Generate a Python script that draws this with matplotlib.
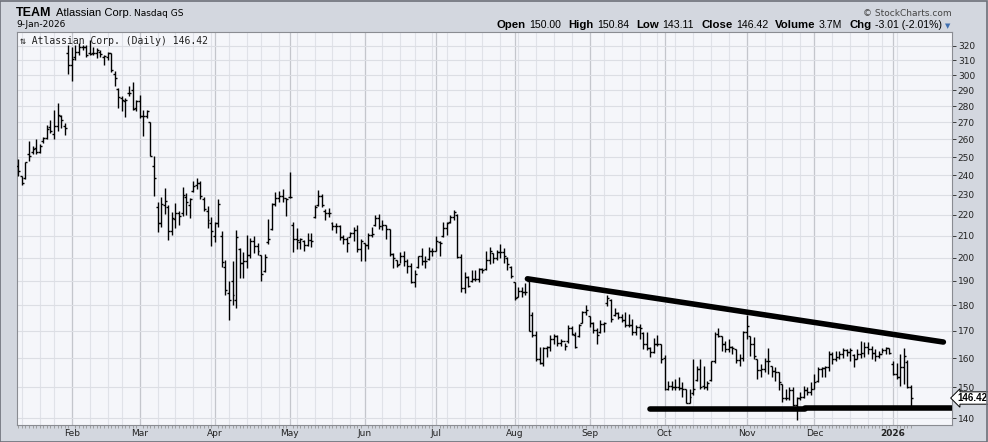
import matplotlib
matplotlib.use("Agg")
import matplotlib.pyplot as plt
import numpy as np
import pandas as pd

# trading days shown (Jan 10 2025 .. Jan 9 2026)
holidays = ['2025-01-20', '2025-02-17', '2025-04-18', '2025-05-26', '2025-06-19',
            '2025-07-04', '2025-09-01', '2025-11-27', '2025-12-25', '2026-01-01']
dates = pd.bdate_range('2025-01-10', '2026-01-09', freq='C', holidays=holidays)

# daily OHLC
highs = [
    249.0, 239.8, 247.5, 259.1, 256.3, 260.0, 257.4, 261.4, 268.7, 271.6,
    277.5, 281.7, 274.8, 269.7, 320.7, 319.0, 320.7, 322.0, 320.7, 320.7,
    324.0, 319.5, 318.3, 317.0, 313.7, 316.0, 315.3, 302.4, 291.6, 286.2,
    285.0, 292.6, 295.2, 284.0, 287.3, 277.3, 277.3, 270.5, 250.9, 226.2,
    228.8, 233.2, 225.0, 221.4, 226.0, 222.0, 234.2, 231.0, 228.1, 236.9,
    238.7, 236.9, 228.8, 224.1, 219.0, 216.5, 227.8, 212.0, 199.0, 190.0,
    198.3, 212.7, 204.2, 202.6, 210.3, 208.8, 209.8, 206.5, 201.2, 201.6,
    217.9, 225.6, 231.5, 231.8, 232.9, 228.2, 242.1, 216.6, 213.5, 208.8,
    208.0, 211.1, 211.4, 224.8, 232.4, 230.4, 222.6, 223.1, 216.6, 216.2,
    215.0, 210.3, 209.2, 211.9, 213.9, 215.0, 208.3, 206.8, 211.4, 213.9,
    219.9, 220.4, 217.4, 215.0, 213.0, 202.1, 199.0, 202.4, 202.8, 199.3,
    197.8, 194.6, 200.8, 204.1, 200.5, 204.9, 204.1, 209.8, 207.5, 216.6,
    216.6, 219.9, 222.3, 220.4, 201.6, 193.8, 192.0, 194.6, 194.6, 195.3,
    195.3, 202.8, 204.6, 202.1, 203.4, 206.1, 204.2, 200.1, 196.1, 189.6,
    187.5, 187.5, 188.9, 191.0, 177.1, 170.0, 163.9, 163.9, 164.4, 168.5,
    168.8, 168.5, 167.1, 165.6, 172.2, 171.8, 169.6, 172.6, 177.7, 180.0,
    175.5, 173.5, 170.9, 174.1, 173.5, 184.1, 182.3, 178.7, 177.1, 176.5,
    177.4, 176.5, 174.4, 172.2, 172.6, 169.6, 169.6, 163.9, 167.4, 168.3,
    165.0, 161.0, 152.2, 152.2, 152.8, 153.3, 151.7, 149.5, 149.5, 159.5,
    157.3, 159.5, 157.3, 152.2, 159.0, 169.4, 171.0, 168.1, 166.3, 166.9,
    164.4, 163.2, 161.6, 170.0, 175.9, 168.1, 167.5, 159.5, 157.9, 159.9,
    163.8, 157.3, 156.7, 155.0, 151.1, 149.5, 150.0, 150.0, 146.8, 148.4,
    150.5, 150.0, 151.7, 154.5, 156.7, 156.7, 157.3, 162.6, 162.0, 162.6,
    162.6, 163.8, 163.2, 163.8, 161.4, 163.2, 166.3, 165.9, 165.7, 164.4,
    163.2, 162.6, 163.8, 164.0, 163.8, 159.0, 158.4, 161.4, 163.8, 159.2,
    150.84]
lows = [
    239.5, 235.2, 238.1, 248.0, 251.8, 251.8, 252.3, 258.2, 260.4, 263.5,
    260.4, 264.8, 266.5, 262.3, 300.7, 296.0, 310.1, 313.7, 317.0, 312.4,
    313.7, 313.7, 311.4, 312.4, 306.7, 310.1, 302.0, 292.6, 279.0, 276.9,
    273.3, 286.2, 277.5, 276.9, 272.7, 261.9, 272.7, 250.9, 229.1, 211.6,
    214.1, 220.1, 208.0, 210.5, 213.4, 214.9, 219.5, 220.0, 218.4, 231.4,
    233.1, 227.8, 222.0, 213.4, 205.0, 207.0, 214.1, 196.0, 184.0, 174.0,
    180.0, 178.7, 191.0, 191.0, 195.3, 199.7, 202.2, 201.2, 190.0, 193.8,
    206.1, 212.7, 224.3, 226.5, 226.5, 219.4, 228.2, 202.6, 203.7, 203.7,
    203.1, 205.2, 204.6, 218.2, 224.3, 223.7, 217.4, 219.0, 212.7, 211.1,
    208.0, 206.1, 202.6, 209.2, 207.6, 202.6, 198.3, 198.3, 203.7, 209.2,
    214.4, 213.0, 212.7, 208.3, 200.8, 195.3, 195.9, 197.6, 196.1, 193.2,
    188.9, 187.5, 195.3, 196.8, 195.3, 199.0, 200.8, 202.8, 200.5, 209.2,
    210.3, 216.2, 217.4, 199.7, 185.4, 185.0, 187.3, 189.6, 190.0, 189.6,
    193.2, 194.6, 197.2, 197.8, 199.0, 199.7, 197.6, 194.6, 191.0, 182.0,
    183.4, 183.4, 184.1, 169.8, 167.5, 159.0, 158.0, 157.3, 160.5, 162.4,
    165.0, 164.4, 164.4, 163.0, 165.6, 168.5, 163.6, 167.6, 172.8, 176.1,
    171.6, 169.0, 165.0, 169.0, 169.6, 179.6, 173.3, 175.5, 174.4, 173.5,
    171.6, 171.6, 168.3, 168.3, 166.9, 163.3, 163.0, 160.5, 161.7, 164.4,
    158.2, 148.9, 148.9, 148.9, 148.9, 148.9, 146.8, 144.7, 144.7, 147.3,
    152.2, 149.5, 149.5, 148.9, 152.2, 158.4, 167.5, 162.6, 162.0, 162.0,
    161.4, 158.4, 157.3, 159.0, 166.9, 160.8, 159.5, 152.8, 153.3, 155.0,
    154.5, 153.3, 152.2, 148.9, 145.2, 145.7, 145.7, 143.8, 139.3, 145.7,
    146.3, 147.3, 147.3, 149.5, 151.7, 153.3, 153.3, 155.5, 157.9, 159.0,
    159.5, 160.2, 160.8, 159.0, 156.7, 159.5, 160.2, 160.5, 161.4, 159.5,
    159.0, 160.2, 161.8, 161.6, 161.4, 154.0, 152.8, 150.5, 151.1, 149.8,
    143.11]
opens = [
    245.0, 239.5, 238.5, 252.0, 253.0, 255.0, 253.0, 259.0, 261.0, 267.0,
    263.0, 268.0, 274.0, 268.0, 315.0, 307.0, 312.0, 316.0, 319.0, 319.0,
    315.0, 315.0, 315.0, 316.0, 312.0, 312.0, 315.0, 301.0, 291.0, 285.0,
    283.0, 288.0, 290.0, 279.0, 283.0, 274.0, 274.0, 270.0, 245.0, 224.0,
    216.0, 225.0, 224.0, 212.0, 218.0, 221.0, 221.0, 229.0, 225.0, 232.0,
    235.0, 236.0, 228.0, 222.0, 216.0, 210.0, 216.0, 210.0, 196.0, 185.0,
    190.0, 182.0, 204.0, 197.8, 198.3, 201.2, 207.5, 205.2, 201.0, 194.0,
    207.0, 213.0, 225.3, 228.2, 229.4, 228.2, 229.0, 215.0, 208.3, 207.0,
    207.5, 205.7, 208.0, 219.0, 225.0, 229.5, 222.0, 221.0, 216.0, 214.5,
    214.5, 209.2, 208.3, 209.5, 211.1, 212.7, 203.7, 206.8, 205.7, 210.3,
    215.0, 218.3, 214.5, 215.0, 213.0, 201.6, 199.0, 197.0, 200.5, 198.3,
    196.1, 189.6, 196.0, 200.5, 198.3, 199.5, 202.8, 203.1, 207.0, 210.0,
    213.4, 216.5, 219.1, 220.0, 200.1, 186.8, 191.5, 190.0, 190.6, 190.6,
    194.9, 195.0, 199.0, 202.1, 199.7, 202.4, 202.4, 200.0, 196.0, 189.6,
    183.4, 185.8, 185.4, 190.0, 176.0, 168.3, 159.6, 158.3, 163.6, 163.9,
    166.9, 168.2, 165.6, 166.0, 166.0, 170.9, 168.5, 168.0, 173.0, 177.1,
    175.5, 172.8, 170.3, 169.5, 172.6, 181.0, 182.2, 176.0, 176.8, 175.3,
    174.1, 172.2, 172.2, 169.6, 171.6, 169.0, 165.2, 163.6, 162.3, 165.2,
    165.0, 160.0, 149.5, 150.5, 150.2, 150.2, 149.8, 149.5, 144.9, 148.0,
    152.5, 156.1, 150.5, 150.0, 152.5, 159.0, 168.8, 168.0, 164.9, 163.2,
    164.0, 163.2, 159.2, 160.0, 169.7, 168.0, 164.9, 159.5, 155.8, 156.1,
    159.0, 157.3, 155.5, 155.0, 151.0, 146.3, 146.3, 148.9, 144.2, 146.3,
    146.8, 149.1, 148.4, 149.5, 152.0, 156.1, 156.5, 156.7, 161.4, 159.5,
    160.4, 161.6, 162.8, 162.2, 161.0, 159.5, 161.6, 161.8, 164.0, 163.2,
    161.8, 160.8, 161.4, 162.8, 163.6, 158.0, 154.3, 153.5, 156.7, 158.5,
    150.00]
closes = [
    242.3, 236.1, 247.1, 250.9, 254.5, 252.7, 256.3, 260.6, 266.2, 264.8,
    268.1, 274.8, 271.6, 266.7, 306.7, 311.0, 316.0, 319.5, 319.0, 313.7,
    314.4, 314.9, 317.0, 314.4, 312.9, 315.3, 303.5, 298.1, 285.8, 284.0,
    284.0, 288.3, 278.4, 283.0, 274.1, 273.7, 276.9, 250.9, 238.5, 215.8,
    225.3, 227.0, 212.0, 218.4, 221.0, 219.2, 230.0, 226.2, 227.8, 234.5,
    236.0, 229.4, 222.8, 217.5, 212.0, 215.8, 225.3, 198.0, 186.0, 182.0,
    184.1, 209.2, 197.8, 198.3, 201.2, 207.5, 205.2, 203.0, 192.8, 200.1,
    208.3, 225.3, 228.2, 229.4, 228.2, 227.8, 228.7, 208.3, 208.0, 208.3,
    205.7, 208.0, 207.6, 223.7, 229.5, 224.8, 221.0, 220.7, 214.5, 214.5,
    209.2, 208.3, 206.8, 211.1, 212.7, 203.7, 207.6, 205.7, 210.3, 210.8,
    218.3, 214.5, 215.0, 213.0, 201.6, 199.7, 196.8, 200.5, 198.3, 196.1,
    189.6, 192.8, 200.5, 198.3, 198.3, 202.8, 203.1, 207.6, 206.5, 213.4,
    215.8, 219.1, 221.4, 200.1, 186.8, 191.5, 187.7, 190.6, 190.6, 194.9,
    194.6, 199.0, 202.8, 199.7, 202.4, 202.4, 200.5, 197.3, 191.8, 182.7,
    185.8, 185.4, 185.4, 170.0, 168.3, 159.6, 158.3, 163.6, 163.9, 166.9,
    168.2, 165.6, 166.0, 164.4, 170.9, 168.6, 164.1, 172.2, 177.1, 178.0,
    172.8, 170.3, 168.5, 172.6, 172.8, 182.7, 174.4, 176.8, 175.3, 174.1,
    172.2, 172.2, 169.6, 171.6, 170.9, 165.2, 163.6, 162.3, 165.2, 165.0,
    159.7, 149.5, 150.5, 150.2, 150.2, 149.8, 149.5, 144.9, 146.8, 149.5,
    156.1, 150.0, 150.0, 151.3, 158.8, 168.8, 168.1, 164.9, 163.2, 164.0,
    163.6, 159.2, 160.0, 169.7, 172.0, 164.9, 160.8, 155.8, 156.1, 159.0,
    159.0, 155.5, 155.0, 151.7, 146.3, 146.3, 148.9, 144.2, 146.3, 146.8,
    149.1, 148.4, 149.5, 151.7, 156.1, 156.5, 156.7, 161.4, 159.5, 160.4,
    161.6, 162.8, 162.2, 162.8, 159.5, 161.6, 161.8, 164.0, 163.2, 161.8,
    160.8, 161.4, 162.8, 163.6, 161.8, 154.3, 153.5, 156.7, 160.8, 150.0,
    146.42]

# hand-drawn trend lines (bar index, price)
resist_x = [142.6, 259.1]
resist_y = [190.8, 165.8]
support_segs = [([176.9, 220.3], [142.9, 142.9]), ([220.3, 263.5], [143.2, 143.2])]

price_ticks = list(range(140, 330, 10))
last_close = 146.42
stats = [('Open', '150.00'), ('High', '150.84'), ('Low', '143.11'), ('Close', '146.42'),
         ('Volume', '3.7M'), ('Chg', '-3.01 (-2.01%)')]

W, H = 988, 442
fig = plt.figure(figsize=(W / 100, H / 100), dpi=100)
fig.patch.set_facecolor('#d3d7df')

def fx(px):
    return px / W

def fy(py):
    return 1 - py / H

ax = fig.add_axes([fx(16.7), fy(425), fx(952.3) - fx(16.7), fy(31.7) - fy(425)])
ax.set_facecolor('#f5f6fa')

x = np.arange(len(dates))
ax.set_yscale('log')
ax.set_ylim(137.9, 330.3)
ax.set_xlim(-0.45, 261.6)

# grid: weekly light, monthly darker, horizontal every 10
week = dates.to_period('W')
week_starts = [i for i in range(1, len(dates)) if week[i] != week[i - 1]]
month_starts = [i for i in range(1, len(dates)) if dates[i].month != dates[i - 1].month]
for i in week_starts:
    ax.axvline(i, color='#e0e2e8', lw=0.8, zorder=0)
for i in month_starts:
    ax.axvline(i, color='#c4c6cc', lw=0.9, zorder=0)
for p in price_ticks:
    ax.axhline(p, color='#dcdee4', lw=0.8, zorder=0)

# OHLC bars
ax.vlines(x, lows, highs, color='black', lw=1.0, zorder=3)
ax.hlines(opens, x - 0.55, x, color='black', lw=1.0, zorder=3)
ax.hlines(closes, x, x + 0.55, color='black', lw=1.0, zorder=3)

# trend lines
ax.plot(resist_x, resist_y, color='black', lw=4.0, solid_capstyle='round', zorder=4)
for sx, sy in support_segs:
    ax.plot(sx, sy, color='black', lw=4.0, solid_capstyle='round', zorder=4)

# axes styling
ax.yaxis.tick_right()
ax.set_yticks(price_ticks)
ax.set_yticklabels([str(p) for p in price_ticks])
ax.yaxis.set_minor_locator(matplotlib.ticker.NullLocator())
ax.tick_params(axis='y', which='major', length=3, width=0.6, pad=1, labelsize=6.5,
               colors='#222222')
month_labels = [('2026' if dates[i].year == 2026 else dates[i].strftime('%b')) for i in month_starts]
ax.set_xticks(month_starts)
ax.set_xticklabels(month_labels)
for lbl in ax.get_xticklabels():
    if lbl.get_text() == '2026':
        lbl.set_fontweight('bold')
ax.set_xticks(x, minor=True)
ax.tick_params(axis='x', which='major', length=0, pad=3, labelsize=6.5, colors='#222222')
ax.tick_params(axis='x', which='minor', length=2, width=0.5, color='#888888')
for s in ax.spines.values():
    s.set_color('#8a8c92')
    s.set_linewidth(0.8)

# last price marker
ax.annotate(f'{last_close:.2f}', xy=(1.0, last_close), xycoords=('axes fraction', 'data'),
            xytext=(3.5, 0), textcoords='offset points', ha='left', va='center',
            fontsize=7, fontweight='bold', family='Liberation Sans', color='black',
            bbox=dict(boxstyle='larrow,pad=0.12', fc='white', ec='black', lw=0.7),
            annotation_clip=False)

# inner title
ax.text(0.003, 0.99, '⇅ Atlassian Corp. (Daily) 146.42', transform=ax.transAxes,
        ha='left', va='top', fontsize=7, family='DejaVu Sans Mono', color='#222222')

# header
fig.text(fx(16), fy(12.5), 'TEAM', fontsize=9, fontweight='bold', family='Liberation Sans',
         va='center', ha='left')
fig.text(fx(56), fy(12.5), 'Atlassian Corp.', fontsize=8, family='Liberation Sans',
         va='center', ha='left')
fig.text(fx(134), fy(13), 'Nasdaq GS', fontsize=6.5, family='DejaVu Sans',
         va='center', ha='left')
fig.text(fx(16), fy(24.5), '9-Jan-2026', fontsize=6.5, family='DejaVu Sans',
         va='center', ha='left')
fig.text(fx(952), fy(13), '© StockCharts.com', fontsize=6.5, family='DejaVu Sans',
         va='center', ha='right', color='#444444')

# stats row laid out left to right, then shifted to end at the arrow
renderer = fig.canvas.get_renderer()
pieces = []
for lab, val in stats:
    pieces.append((lab, True))
    pieces.append((val, False))
cur = 0.0
placed = []
for txt, bold in pieces:
    t = fig.text(0, fy(25.5), txt, fontsize=8.2 if bold else 7.6, family='Liberation Sans',
                 fontweight='bold' if bold else 'normal', va='center', ha='left')
    w = t.get_window_extent(renderer).width
    placed.append((t, cur))
    cur += w + (3.5 if bold else 7.0)
end_px = 942.0
start_px = end_px - (cur - 7.0)
for t, off in placed:
    t.set_x(fx(start_px + off))
fig.text(fx(945), fy(26), '▼', fontsize=5, color='#3f6fb0', va='center', ha='left')

# outer frame
fig.add_artist(plt.Rectangle((0.0005, 0.001), 0.998, 0.997, transform=fig.transFigure,
                             fill=False, ec='#6d7079', lw=1.2))

fig.savefig('out.png', dpi=100, facecolor=fig.get_facecolor())
